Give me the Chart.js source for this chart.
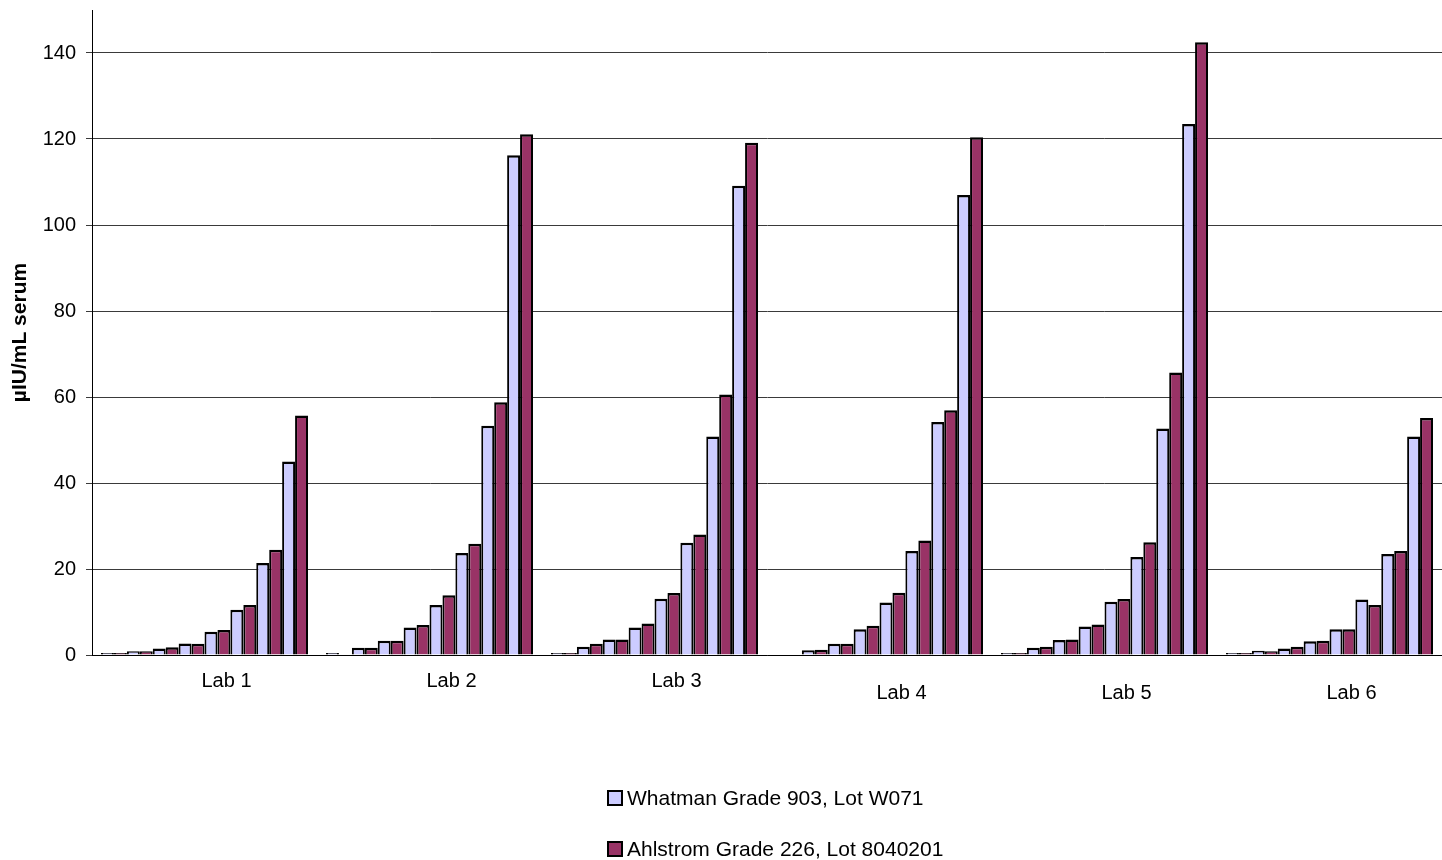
<!DOCTYPE html>
<html>
<head>
<meta charset="utf-8">
<script src="https://cdn.jsdelivr.net/npm/chart.js@4/dist/chart.umd.min.js"></script>
<style>
    body { margin: 0; background: #fff; font-family: 'Liberation Sans', Arial, sans-serif; }
    #wrap { position: relative; width: 1442px; height: 860px; }
    .legend-row { position: absolute; left: 607px; height: 22px; display: flex; align-items: center; font-size: 21px; color: #000; white-space: nowrap; }
    .legend-box { width: 12px; height: 12px; border: 2px solid #000; margin-right: 4px; }
</style>
</head>
<body>
<div id="wrap">
    <canvas id="chart" width="1442" height="860"></canvas>
    <div class="legend-row" style="top: 787px;"><span class="legend-box" style="background:#CCCCFF"></span>Whatman Grade 903, Lot W071</div>
    <div class="legend-row" style="top: 838px;"><span class="legend-box" style="background:#993366"></span>Ahlstrom Grade 226, Lot 8040201</div>
</div>
<script>
const labs = ['Lab 1', 'Lab 2', 'Lab 3', 'Lab 4', 'Lab 5', 'Lab 6'];
const yTicks = [0, 20, 40, 60, 80, 100, 120, 140];

// 8 Konzentrationsstufen pro Labor
const whatman = [
    [0.2, 0.9, 1.5, 2.7, 5.4, 10.5, 21.4, 45.0],
    [0.1, 1.7, 3.3, 6.4, 11.6, 23.7, 53.3, 116.2],
    [0.2, 1.9, 3.6, 6.4, 13.1, 26.1, 50.8, 109.1],
    [null, 1.1, 2.6, 6.0, 12.2, 24.2, 54.2, 107.0],
    [0.4, 1.7, 3.5, 6.6, 12.4, 22.8, 52.7, 123.5],
    [0.2, 1.0, 1.5, 3.2, 6.0, 12.9, 23.5, 50.8]
];
const ahlstrom = [
    [0.2, 0.9, 1.8, 2.6, 5.8, 11.6, 24.5, 55.7],
    [null, 1.7, 3.3, 7.0, 13.9, 25.9, 58.8, 121.1],
    [0.2, 2.6, 3.6, 7.3, 14.4, 28.0, 60.6, 119.1],
    [null, 1.2, 2.6, 6.8, 14.5, 26.6, 56.9, 120.4],
    [0.2, 1.9, 3.6, 7.1, 13.0, 26.2, 65.7, 142.5],
    [0.2, 0.9, 1.9, 3.3, 6.0, 11.6, 24.2, 55.1]
];

const colW = '#CCCCFF';
const colA = '#993366';

const datasets = [];
for (let i = 0; i < 8; i++) {
    datasets.push({
        label: 'Whatman Grade 903, Lot W071',
        data: whatman.map(r => r[i]),
        backgroundColor: colW
    });
    datasets.push({
        label: 'Ahlstrom Grade 226, Lot 8040201',
        data: ahlstrom.map(r => r[i]),
        backgroundColor: colA
    });
}
datasets.forEach(d => {
    d.borderColor = '#000';
    d.borderWidth = { top: 2.5, left: 2, right: 2, bottom: 0 };
    d.borderSkipped = 'start';
    d.minBarLength = 2;
    d.categoryPercentage = 0.92;
    d.barPercentage = 1.0;
});

new Chart(document.getElementById('chart'), {
    type: 'bar',
    data: { labels: labs, datasets: datasets },
    options: {
        responsive: false,
        animation: false,
        layout: { padding: { top: 10, right: 0, bottom: 0, left: 0 } },
        plugins: {
            legend: { display: false },
            tooltip: { enabled: false }
        },
        scales: {
            x: {
                grid: { display: false, drawTicks: false },
                border: { color: '#000', width: 1 },
                ticks: {
                    color: '#000',
                    font: { size: 20, family: "'Liberation Sans', Arial, sans-serif", lineHeight: 0.6 },
                    padding: 20,
                    labelOffset: 22,
                    maxRotation: 0,
                    autoSkip: false,
                    // Lab 4-6 stehen im Original eine Zeile tiefer
                    callback: (v, i) => i >= 3 ? ['', labs[i]] : labs[i]
                },
                afterFit: (scale) => { scale.height = 205; }
            },
            y: {
                min: 0,
                max: 150,
                afterBuildTicks: (axis) => { axis.ticks = yTicks.map(v => ({ value: v })); },
                grid: { color: '#3a3a3a', lineWidth: 1, tickLength: 6 },
                border: { color: '#000', width: 1 },
                ticks: {
                    color: '#000',
                    padding: 10,
                    font: { size: 20, family: "'Liberation Sans', Arial, sans-serif" }
                },
                title: {
                    display: true,
                    text: 'µIU/mL serum',
                    color: '#000',
                    font: { size: 21, weight: 'bold', family: "'Liberation Sans', Arial, sans-serif" },
                    padding: { top: 8, bottom: 0 }
                },
                afterFit: (scale) => {
                    scale.width = 92;
                    scale.paddingTop = 0;
                    scale.paddingBottom = 0;
                }
            }
        }
    }
});
</script>
</body>
</html>
